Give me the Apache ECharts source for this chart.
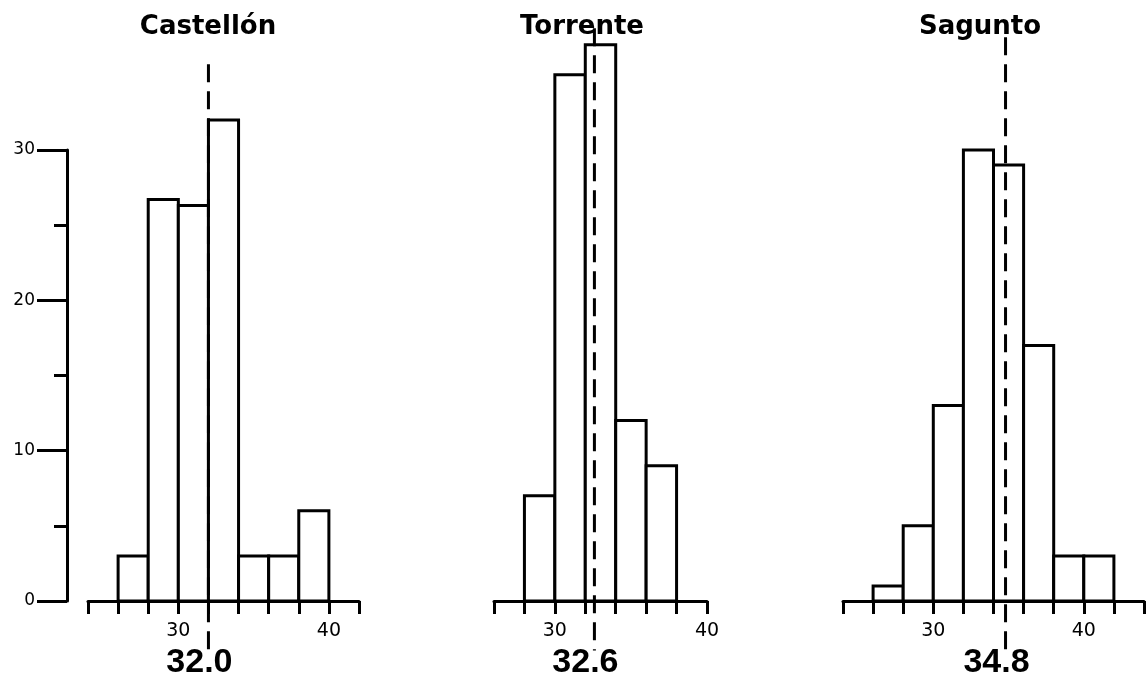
<!DOCTYPE html>
<html>
<head>
<meta charset="utf-8">
<script src="https://cdn.jsdelivr.net/npm/echarts@6/dist/echarts.min.js"></script>
<style>
html,body{margin:0;padding:0;background:#fff;}
#chart{width:1146px;height:680px;}
</style>
</head>
<body>
<div id="chart"></div>
<script>
// ---- data ----
const panelTitles = ['Castellón', 'Torrente', 'Sagunto'];
const binWidth = 2;
const castellonBinStarts = [26, 28, 30, 32, 34, 36, 38];
const castellonCounts    = [3, 26.7, 26.3, 32, 3, 3, 6];
const torrenteBinStarts  = [28, 30, 32, 34, 36];
const torrenteCounts     = [7, 35, 37, 12, 9];
const saguntoBinStarts   = [26, 28, 30, 32, 34, 36, 38, 40];
const saguntoCounts      = [1, 5, 13, 30, 29, 17, 3, 3];
const meanValues = [32.0, 32.6, 34.8];
const meanLabels = ['32.0', '32.6', '34.8'];
const meanLineTops = [35.7, 38.1, 37.5];
const meanLineBottom = -3.3;
const meanLabelY = -4.1;
const xMins = [24, 26, 24];
const xMaxs = [42, 40, 44];
const xTickLabels = [30, 40];
const yTickLabels = [0, 10, 20, 30];

const binStarts = [castellonBinStarts, torrenteBinStarts, saguntoBinStarts];
const counts = [castellonCounts, torrenteCounts, saguntoCounts];

// ---- layout ----
const gridLayout = [
  {left: 88, width: 271},
  {left: 494, width: 213},
  {left: 843, width: 301}
];
const titleCenters = [203, 577, 975];

const chart = echarts.init(document.getElementById('chart'), null, {renderer: 'canvas'});

const grids = gridLayout.map(g => ({left: g.left, width: g.width, top: 150, height: 451, containLabel: false, outerBoundsMode: 'none'}));

const xAxes = gridLayout.map((g, i) => ({
  type: 'value', gridIndex: i, min: xMins[i], max: xMaxs[i], interval: binWidth,
  axisLine: {show: true, onZero: false, lineStyle: {color: '#000', width: 3}},
  axisTick: {show: true, length: 13, lineStyle: {color: '#000', width: 3}},
  axisLabel: {
    show: true, margin: 21, color: '#000', fontSize: 19, fontFamily: 'DejaVu Sans',
    formatter: v => xTickLabels.includes(v) ? String(v) : ''
  },
  splitLine: {show: false}
}));

const yAxes = gridLayout.map((g, i) => ({
  type: 'value', gridIndex: i, min: 0, max: 30, interval: 10,
  show: i === 0, position: 'left', offset: 21,
  axisLine: {show: true, lineStyle: {color: '#000', width: 3}},
  axisTick: {show: true, length: 30, lineStyle: {color: '#000', width: 3}},
  minorTick: {show: true, splitNumber: 2, length: 13, lineStyle: {color: '#000', width: 3}},
  axisLabel: {
    show: true, margin: 32, color: '#000', fontSize: 17, fontFamily: 'DejaVu Sans',
    formatter: v => yTickLabels.includes(v) ? String(v) : ''
  },
  splitLine: {show: false},
  minorSplitLine: {show: false}
}));

function renderBin(params, api) {
  const p0 = api.coord([api.value(0), api.value(2)]);
  const p1 = api.coord([api.value(1), 0]);
  return {
    type: 'rect',
    shape: {x: p0[0], y: p0[1], width: p1[0] - p0[0], height: p1[1] - p0[1]},
    style: {fill: '#fff', stroke: '#000', lineWidth: 3}
  };
}

const series = [];
for (let i = 0; i < 3; i++) {
  series.push({
    type: 'custom', xAxisIndex: i, yAxisIndex: i,
    renderItem: renderBin,
    encode: {x: [0, 1], y: 2},
    data: binStarts[i].map((s, k) => [s, s + binWidth, counts[i][k]]),
    z: 2
  });
  series.push({
    type: 'line', xAxisIndex: i, yAxisIndex: i, clip: false,
    symbol: 'none', silent: true,
    lineStyle: {color: '#000', width: 3, type: [18, 9]},
    data: [[meanValues[i], meanLineTops[i]], [meanValues[i], meanLineBottom]],
    z: 5
  });
  series.push({
    type: 'scatter', xAxisIndex: i, yAxisIndex: i, clip: false, silent: true,
    symbol: 'circle', symbolSize: 0, itemStyle: {color: '#000', opacity: 1},
    data: [[meanValues[i], meanLabelY]],
    label: {
      show: true, position: 'inside', offset: [-9, 0],
      formatter: meanLabels[i], opacity: 1,
      color: '#000', textBorderWidth: 0,
      fontSize: 34, fontWeight: 'bold', fontFamily: 'Liberation Sans'
    },
    z: 6
  });
}

const titles = panelTitles.map((t, i) => ({
  text: t, left: titleCenters[i], top: 9, textAlign: 'center',
  textStyle: {color: '#000', fontSize: 26, fontWeight: 'bold', fontFamily: 'DejaVu Sans'}
}));

chart.setOption({
  animation: false,
  backgroundColor: '#fff',
  title: titles,
  grid: grids,
  xAxis: xAxes,
  yAxis: yAxes,
  series: series
});
</script>
</body>
</html>
